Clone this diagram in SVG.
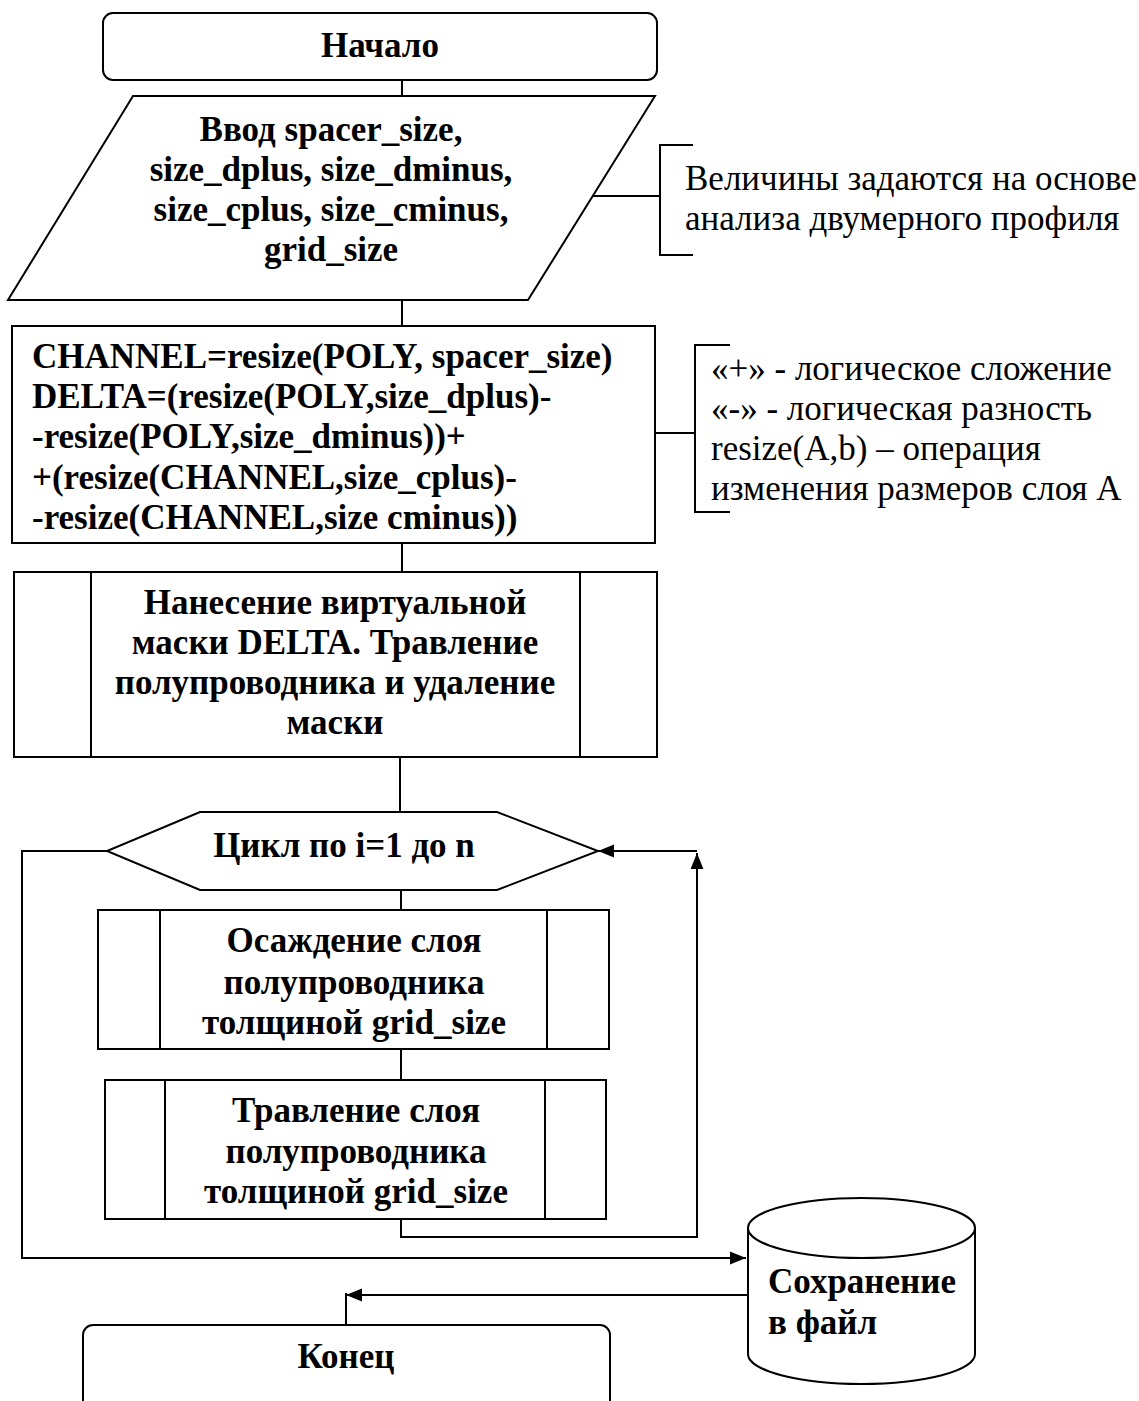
<svg xmlns="http://www.w3.org/2000/svg" width="1139" height="1401" viewBox="0 0 1139 1401">
<defs>
<style>
.s{fill:#fff;stroke:#000;stroke-width:2}
.l{fill:none;stroke:#000;stroke-width:2}
.b{font-family:"Liberation Serif",serif;font-weight:bold;font-size:35px;fill:#000}
.c{text-anchor:middle}
.n{font-family:"Liberation Serif",serif;font-size:35px;fill:#000}
</style>
<marker id="ar2" viewBox="0 0 10 10" refX="10" refY="5" markerWidth="16" markerHeight="16" markerUnits="userSpaceOnUse" orient="auto"><path d="M0,1L10,5L0,9z" fill="#000"/></marker>
</defs>
<rect width="1139" height="1401" fill="#fff"/>
<g id="connectors">
<path class="l" d="M402,80V96"/>
<path class="l" d="M402,300V326"/>
<path class="l" d="M402,543V572"/>
<path class="l" d="M400,757V812"/>
<path class="l" d="M401,890V910"/>
<path class="l" d="M401,1049V1080"/>
<path class="l" d="M401,1219V1237H697V853" marker-end="url(#ar2)"/>
<path class="l" d="M697,851H598" marker-end="url(#ar2)"/>
<path class="l" d="M107,851H22V1258H746" marker-end="url(#ar2)"/>
<path class="l" d="M748,1295H346" marker-end="url(#ar2)"/>
<path class="l" d="M346,1293V1325"/>
<path class="l" d="M590,196H660"/>
<path class="l" d="M655,433H695"/>
</g>
<g id="start">
<rect class="s" x="103" y="13" width="554" height="67" rx="10"/>
<text class="b c" x="380" y="57">Начало</text>
</g>
<g id="input">
<polygon class="s" points="133,96 655,96 528,300 8,300"/>
<text class="b c" x="331" y="141">Ввод spacer_size,</text>
<text class="b c" x="331" y="181">size_dplus, size_dminus,</text>
<text class="b c" x="331" y="221">size_cplus, size_cminus,</text>
<text class="b c" x="331" y="261">grid_size</text>
</g>
<g id="note1">
<path class="l" d="M693,145H660V255H693"/>
<text class="n" x="685" y="190">Величины задаются на основе</text>
<text class="n" x="685" y="230">анализа двумерного профиля</text>
</g>
<g id="calc">
<rect class="s" x="12" y="326" width="643" height="217"/>
<text class="b" x="32" y="368">CHANNEL=resize(POLY, spacer_size)</text>
<text class="b" x="32" y="408">DELTA=(resize(POLY,size_dplus)-</text>
<text class="b" x="32" y="448">-resize(POLY,size_dminus))+</text>
<text class="b" x="32" y="489">+(resize(CHANNEL,size_cplus)-</text>
<text class="b" x="32" y="529">-resize(CHANNEL,size cminus))</text>
</g>
<g id="note2">
<path class="l" d="M730,345H695V512H730"/>
<text class="n" x="711" y="380">«+» - логическое сложение</text>
<text class="n" x="711" y="420">«-» - логическая разность</text>
<text class="n" x="711" y="460">resize(A,b) – операция</text>
<text class="n" x="711" y="500">изменения размеров слоя А</text>
</g>
<g id="mask">
<rect class="s" x="14" y="572" width="643" height="185"/>
<path class="l" d="M91,572V757M580,572V757"/>
<text class="b c" x="335" y="614">Нанесение виртуальной</text>
<text class="b c" x="335" y="654">маски DELTA. Травление</text>
<text class="b c" x="335" y="694">полупроводника и удаление</text>
<text class="b c" x="335" y="734">маски</text>
</g>
<g id="loop">
<polygon class="s" points="200,812 497,812 598,851 497,890 200,890 107,851"/>
<text class="b c" x="344" y="857">Цикл по i=1 до n</text>
</g>
<g id="deposit">
<rect class="s" x="98" y="910" width="511" height="139"/>
<path class="l" d="M160,910V1049M547,910V1049"/>
<text class="b c" x="354" y="952">Осаждение слоя</text>
<text class="b c" x="354" y="994">полупроводника</text>
<text class="b c" x="354" y="1034">толщиной grid_size</text>
</g>
<g id="etch">
<rect class="s" x="105" y="1080" width="501" height="139"/>
<path class="l" d="M165,1080V1219M545,1080V1219"/>
<text class="b c" x="356" y="1122">Травление слоя</text>
<text class="b c" x="356" y="1163">полупроводника</text>
<text class="b c" x="356" y="1203">толщиной grid_size</text>
</g>
<g id="save">
<path class="s" d="M748,1228V1354A113.5,30 0 0 0 975,1354V1228"/>
<ellipse class="s" cx="861.5" cy="1228" rx="113.5" ry="30"/>
<text class="b" x="768" y="1293">Сохранение</text>
<text class="b" x="768" y="1334">в файл</text>
</g>
<g id="end">
<path class="s" d="M83,1410V1335A10,10 0 0 1 93,1325H600A10,10 0 0 1 610,1335V1410"/>
<text class="b c" x="346" y="1368">Конец</text>
</g>
</svg>
